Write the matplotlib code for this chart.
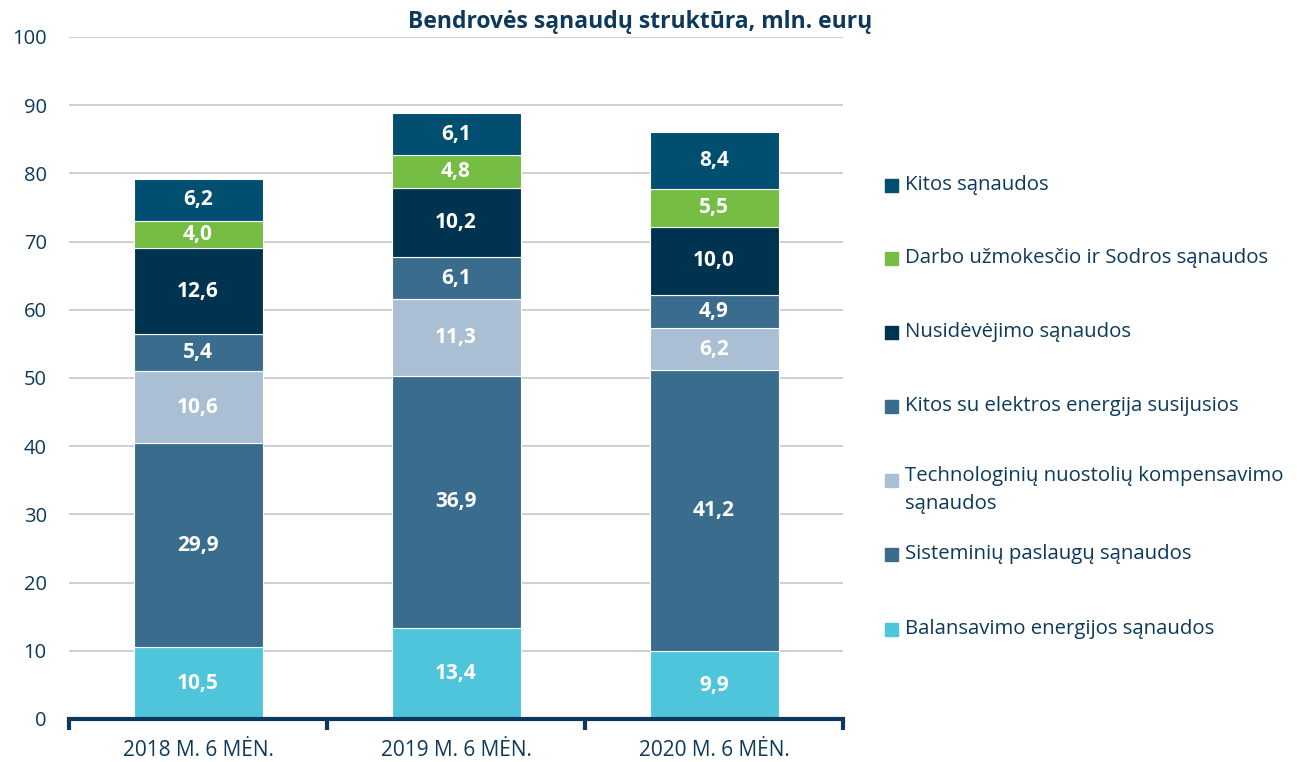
import matplotlib
matplotlib.use("Agg")
import matplotlib.pyplot as plt
from matplotlib.patches import Rectangle
import numpy as np

categories = ["2018 M. 6 MĖN.", "2019 M. 6 MĖN.", "2020 M. 6 MĖN."]
series_names = [
    "Balansavimo energijos sąnaudos",
    "Sisteminių paslaugų sąnaudos",
    "Technologinių nuostolių kompensavimo\nsąnaudos",
    "Kitos su elektros energija susijusios",
    "Nusidėvėjimo sąnaudos",
    "Darbo užmokesčio ir Sodros sąnaudos",
    "Kitos sąnaudos",
]
balansavimo = [10.5, 13.4, 9.9]
sisteminiu = [29.9, 36.9, 41.2]
technologiniu = [10.6, 11.3, 6.2]
kitos_elektros = [5.4, 6.1, 4.9]
nusidevejimo = [12.6, 10.2, 10.0]
darbo = [4.0, 4.8, 5.5]
kitos = [6.2, 6.1, 8.4]
series_values = [balansavimo, sisteminiu, technologiniu, kitos_elektros,
                 nusidevejimo, darbo, kitos]
colors = ["#4FC5DB", "#3A6C8E", "#ABBFD4", "#3A6C8E", "#00334F", "#76BE43", "#004F71"]

TXT = "#0D3A5C"
plt.rcParams['font.family'] = ['Open Sans', 'DejaVu Sans']

fig = plt.figure(figsize=(12.97, 7.62), dpi=100)
ax = fig.add_axes([69/1297, 1-719/762, (843-69)/1297, (719-37)/762])

x = np.arange(len(categories))
bottom = np.zeros(len(categories))
for vals, col in zip(series_values, colors):
    v = np.array(vals)
    ax.bar(x, v, width=0.5, bottom=bottom, color=col, edgecolor="white", linewidth=0.8, zorder=3)
    for xi, b, val in zip(x, bottom, v):
        ax.text(xi, b + val/2, f"{val:.1f}".replace(".", ","), ha="center", va="center",
                color="white", fontsize=15, fontweight="bold", zorder=4)
    bottom += v

ax.set_xlim(-0.5, 2.5)
ax.set_ylim(0, 100)
ax.set_yticks(np.arange(0, 101, 10))
ax.yaxis.grid(True, color="#CFCFCF", linewidth=1.4, zorder=0)
ax.set_axisbelow(True)
for s in ["top", "right", "left"]:
    ax.spines[s].set_visible(False)
ax.spines["bottom"].set_color(TXT)
ax.spines["bottom"].set_linewidth(3)
ax.spines["bottom"].set_zorder(5)
ax.tick_params(axis="y", length=0, labelsize=14.5, labelcolor=TXT, pad=16)
ax.set_xticks(x)
ax.set_xticklabels(categories)
ax.tick_params(axis="x", which="major", length=0, labelsize=15, labelcolor=TXT, pad=15)
ax.set_xticks([-0.5, 0.5, 1.5, 2.5], minor=True)
ax.tick_params(axis="x", which="minor", length=8, width=3, color=TXT, direction="out")

fig.text(640/1297, 1-22/762, "Bendrovės sąnaudų struktūra, mln. eurų", ha="center", va="center",
         fontsize=16.5, fontweight="bold", color=TXT)

# legend (top to bottom)
leg_y = [185, 258, 332, 406, 480, 554, 629]
for name, col, yy in zip(series_names[::-1], colors[::-1], leg_y):
    fig.patches.append(Rectangle((885/1297, 1-(yy+7)/762), 13/1297, 13/762,
                                 transform=fig.transFigure, color=col, figure=fig))
    if "\n" in name:
        fig.text(905/1297, 1-(yy-14)/762, name, ha="left", va="top",
                 fontsize=14.7, color=TXT, linespacing=1.5)
    else:
        fig.text(905/1297, 1-yy/762, name, ha="left", va="center",
                 fontsize=14.7, color=TXT)

fig.savefig("out.png", dpi=100)
